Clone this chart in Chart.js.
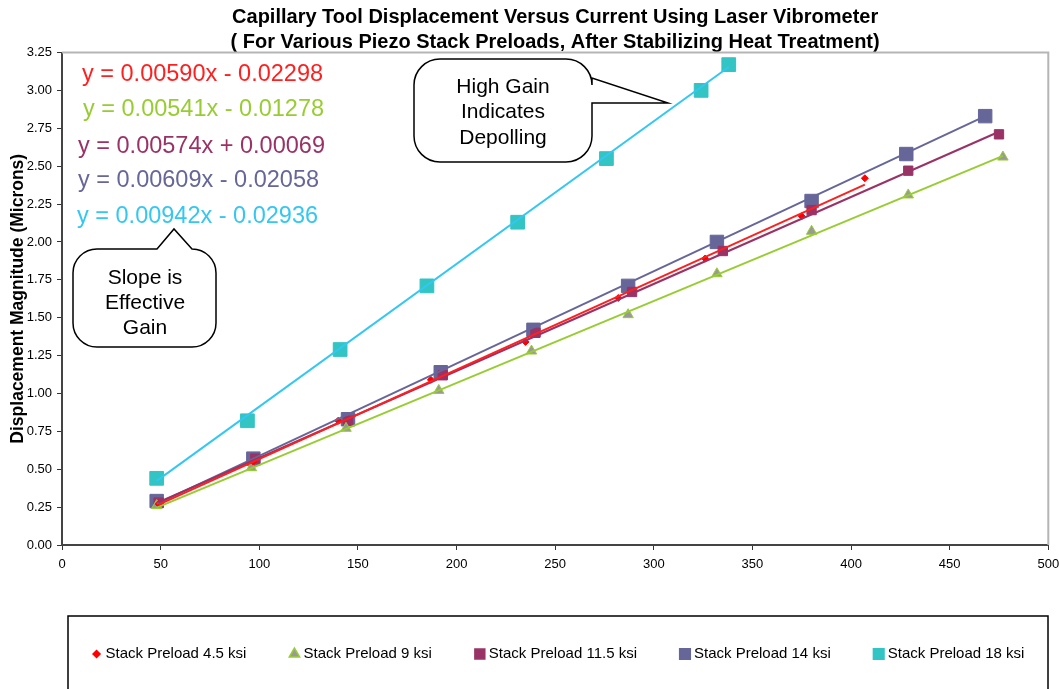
<!DOCTYPE html>
<html>
<head>
<meta charset="utf-8">
<script src="https://cdn.jsdelivr.net/npm/chart.js@4.4.1/dist/chart.umd.min.js"></script>
<style>
	html, body { margin: 0; padding: 0; background: #fff; }
	#chart { display: block; }
</style>
</head>
<body>
<canvas id="chart" width="1059" height="689"></canvas>
<script>
// measured current (x) vs displacement (microns) for each preload
const seriesNames = ['Stack Preload 4.5 ksi', 'Stack Preload 9 ksi', 'Stack Preload 11.5 ksi', 'Stack Preload 14 ksi', 'Stack Preload 18 ksi'];

const current45 = [49, 97, 140, 187, 235, 282, 326, 375, 407];
const disp45 = [0.27, 0.55, 0.82, 1.09, 1.34, 1.63, 1.89, 2.17, 2.42];

const current9 = [48, 96, 144, 191, 238, 287, 332, 380, 429, 477];
const disp9 = [0.26, 0.51, 0.77, 1.02, 1.28, 1.52, 1.79, 2.07, 2.31, 2.56];

const current115 = [49, 98, 145, 193, 240, 289, 335, 380, 429, 475];
const disp115 = [0.28, 0.57, 0.82, 1.12, 1.40, 1.67, 1.94, 2.21, 2.47, 2.71];

const current14 = [48, 97, 145, 192, 239, 287, 332, 380, 428, 468];
const disp14 = [0.29, 0.57, 0.83, 1.14, 1.42, 1.71, 2.00, 2.27, 2.58, 2.83];

const current18 = [48, 94, 141, 185, 231, 276, 324, 338];
const disp18 = [0.44, 0.82, 1.29, 1.71, 2.13, 2.55, 3.00, 3.17];

// linear fit coefficients (y = slope * x + intercept)
const slopes = [0.00590, 0.00541, 0.00574, 0.00609, 0.00942];
const intercepts = [-0.02298, -0.01278, 0.00069, -0.02058, -0.02936];

const xTicks = [0, 50, 100, 150, 200, 250, 300, 350, 400, 450, 500];
const yTicks = [0, 0.25, 0.5, 0.75, 1, 1.25, 1.5, 1.75, 2, 2.25, 2.5, 2.75, 3, 3.25];

const currents = [current45, current9, current115, current14, current18];
const disps = [disp45, disp9, disp115, disp14, disp18];

const FONT = '"Liberation Sans", Arial, sans-serif';
const lineColors = ['#ff1f1f', '#99cc33', '#993366', '#666699', '#33c7f2'];
const markerFill = ['#ff0000', '#999999', '#993366', '#666699', '#33c4c4'];
const markerEdge = ['#ff0000', '#99cc33', '#993366', '#666699', '#33c4c4'];
const markerStyle = ['rectRot', 'triangle', 'rect', 'rect', 'rect'];
const markerRadius = [3.5, 6, 6.6, 9.5, 9.7];
const legendRadius = [3.5, 6, 7, 7.5, 7.5];

const datasets = [];
seriesNames.forEach((name, i) => {
	const xs = currents[i];
	const pts = xs.map((x, j) => ({ x: x, y: disps[i][j] }));
	datasets.push({
		type: 'scatter',
		label: name,
		data: pts,
		order: 1,
		pointStyle: markerStyle[i],
		pointRadius: markerRadius[i],
		backgroundColor: markerFill[i],
		borderColor: markerEdge[i],
		pointBorderWidth: 1
	});
	// trendline over the measured range
	const x0 = Math.min(...xs), x1 = Math.max(...xs);
	datasets.push({
		type: 'line',
		label: name + ' fit',
		data: [x0, x1].map(x => ({ x: x, y: slopes[i] * x + intercepts[i] })),
		order: 0,
		borderColor: lineColors[i],
		borderWidth: 2,
		pointRadius: 0,
		fill: false
	});
});

function eqText(i) {
	const b = intercepts[i];
	return 'y = ' + slopes[i].toFixed(5) + 'x ' + (b < 0 ? '- ' : '+ ') + Math.abs(b).toFixed(5);
}

// gray frame on the top and right of the plot area
const plotFrame = {
	id: 'plotFrame',
	beforeDatasetsDraw(chart) {
		const { ctx, chartArea: a } = chart;
		ctx.save();
		ctx.strokeStyle = '#b5b5b5';
		ctx.lineWidth = 2;
		ctx.beginPath();
		ctx.moveTo(a.left, a.top);
		ctx.lineTo(a.right, a.top);
		ctx.lineTo(a.right, a.bottom);
		ctx.stroke();
		ctx.restore();
	}
};

function roundedBubble(ctx, l, t, r, b, rad, pointer) {
	ctx.beginPath();
	ctx.moveTo(l + rad, t);
	if (pointer.side === 'top') {
		ctx.lineTo(pointer.a, t);
		ctx.lineTo(pointer.tx, pointer.ty);
		ctx.lineTo(pointer.b, t);
	}
	ctx.arcTo(r, t, r, b, rad);
	if (pointer.side === 'right') {
		ctx.lineTo(r, pointer.a);
		ctx.lineTo(pointer.tx, pointer.ty);
		ctx.lineTo(r, pointer.b);
	}
	ctx.arcTo(r, b, l, b, rad);
	ctx.arcTo(l, b, l, t, rad);
	ctx.arcTo(l, t, r, t, rad);
	ctx.closePath();
	ctx.fillStyle = '#fff';
	ctx.fill();
	ctx.strokeStyle = '#000';
	ctx.lineWidth = 1.5;
	ctx.stroke();
}

// fit equations and the two callouts
const notes = {
	id: 'notes',
	afterDatasetsDraw(chart) {
		const ctx = chart.ctx;
		ctx.save();
		ctx.font = '23.5px ' + FONT;
		ctx.textBaseline = 'middle';
		ctx.textAlign = 'left';
		const eqX = [82, 83, 78, 78, 77];
		const eqY = [75, 110, 147, 181, 217];
		for (let i = 0; i < slopes.length; i++) {
			ctx.fillStyle = lineColors[i];
			ctx.fillText(eqText(i), eqX[i], eqY[i]);
		}

		roundedBubble(ctx, 73, 249, 216, 347, 24, { side: 'top', a: 157, b: 192, tx: 174, ty: 229 });
		roundedBubble(ctx, 414, 59, 592, 162, 26, { side: 'right', a: 78, b: 103, tx: 668, ty: 103 });

		ctx.fillStyle = '#000';
		ctx.textAlign = 'center';
		ctx.font = '21px ' + FONT;
		['Slope is', 'Effective', 'Gain'].forEach((s, k) => ctx.fillText(s, 145, 278 + k * 25));
		['High Gain', 'Indicates', 'Depolling'].forEach((s, k) => ctx.fillText(s, 503, 87 + k * 25.5));
		ctx.restore();
	}
};

// boxed legend under the axis
const legendBox = {
	id: 'legendBox',
	afterDraw(chart) {
		const ctx = chart.ctx;
		ctx.save();
		ctx.strokeStyle = '#000';
		ctx.lineWidth = 1.5;
		ctx.strokeRect(68, 616, 980, 120);
		ctx.font = '15px ' + FONT;
		ctx.textBaseline = 'middle';
		ctx.textAlign = 'left';
		const markW = 10, gap = 47, y = 654;
		const widths = seriesNames.map(n => ctx.measureText(n).width);
		const total = widths.reduce((s, w) => s + markW + w, 0) + gap * (widths.length - 1);
		let x = 560 - total / 2;
		seriesNames.forEach((name, i) => {
			ctx.fillStyle = markerFill[i];
			ctx.strokeStyle = markerEdge[i];
			Chart.helpers.drawPoint(ctx, { pointStyle: markerStyle[i], radius: legendRadius[i], borderWidth: 1, rotation: 0 }, x + 1, y);
			ctx.fillStyle = '#000';
			ctx.fillText(name, x + markW, y);
			x += markW + widths[i] + gap;
		});
		ctx.restore();
	}
};

const ctx = document.getElementById('chart').getContext('2d');

new Chart(ctx, {
	type: 'scatter',
	data: { datasets: datasets },
	plugins: [plotFrame, notes, legendBox],
	options: {
		responsive: false,
		animation: false,
		devicePixelRatio: 1,
		layout: { padding: { left: 0, right: 9, top: 0, bottom: 114 } },
		plugins: {
			legend: { display: false },
			tooltip: { enabled: false },
			title: {
				display: true,
				fullSize: false,
				text: ['Capillary Tool Displacement Versus Current Using Laser Vibrometer',
					'( For Various Piezo Stack Preloads, After Stabilizing Heat Treatment)'],
				color: '#000',
				font: { family: FONT, size: 20, weight: 'bold', lineHeight: 1.25 },
				padding: { top: 4.5, bottom: -2 }
			}
		},
		scales: {
			x: {
				type: 'linear',
				min: xTicks[0],
				max: xTicks[xTicks.length - 1],
				afterBuildTicks: s => { s.ticks = xTicks.map(v => ({ value: v })); },
				afterFit: s => { s.height = 30; s.paddingRight = 0; s.paddingLeft = 0; },
				ticks: { color: '#000', font: { family: FONT, size: 13 }, padding: 7 },
				grid: { drawOnChartArea: false, drawTicks: true, tickLength: 5, color: '#333' },
				border: { color: '#444', width: 2 }
			},
			y: {
				type: 'linear',
				min: yTicks[0],
				max: yTicks[yTicks.length - 1],
				afterBuildTicks: s => { s.ticks = yTicks.map(v => ({ value: v })); },
				afterFit: s => { s.width = 62; },
				ticks: { color: '#000', font: { family: FONT, size: 13 }, padding: 5, callback: v => v.toFixed(2) },
				grid: { drawOnChartArea: false, drawTicks: true, tickLength: 5, color: '#333' },
				border: { color: '#444', width: 2 },
				title: {
					display: true,
					text: 'Displacement Magnitude (Microns)',
					color: '#000',
					font: { family: FONT, size: 17.5, weight: 'bold' },
					padding: { top: 8, bottom: 0 }
				}
			}
		}
	}
});
</script>
</body>
</html>
